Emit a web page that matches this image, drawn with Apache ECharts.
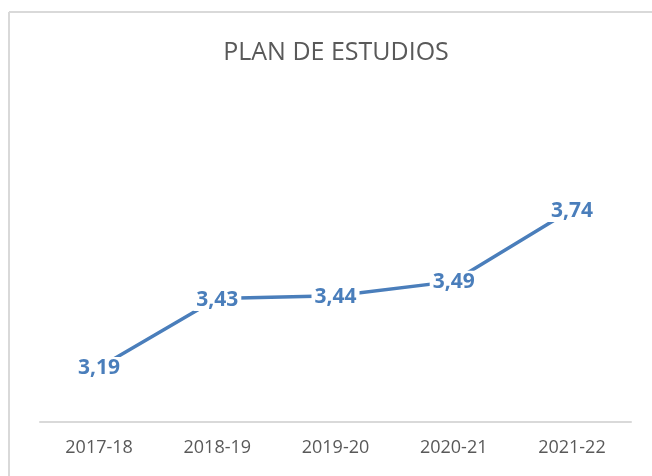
<!DOCTYPE html>
<html>
<head>
<meta charset="utf-8">
<script src="https://cdn.jsdelivr.net/npm/echarts@6/dist/echarts.min.js"></script>
<style>
  html, body { margin: 0; padding: 0; background: #fff; }
  #chart { width: 652px; height: 476px; }
</style>
</head>
<body>
<div id="chart"></div>
<script>
  // datos del grafico
  const cursos = ['2017-18', '2018-19', '2019-20', '2020-21', '2021-22'];
  const notas = [3.19, 3.43, 3.44, 3.49, 3.74];

  const azul = '#4a7ebb';
  const gris = '#595959';

  const myChart = echarts.init(document.getElementById('chart'));
  const option = {
    animation: false,
    title: {
      text: 'PLAN DE ESTUDIOS',
      left: 331,
      top: 35,
      textAlign: 'center',
      textStyle: {
        fontFamily: 'Open Sans',
        fontSize: 25,
        fontWeight: 'normal',
        color: gris
      }
    },
    graphic: [
      { type: 'line', shape: { x1: 9, y1: 12, x2: 652, y2: 12 }, style: { stroke: '#d9d9d9', lineWidth: 2 } },
      { type: 'line', shape: { x1: 9, y1: 12, x2: 9, y2: 476 }, style: { stroke: '#d9d9d9', lineWidth: 2 } }
    ],
    grid: { left: 40, right: 21, top: 135, bottom: 54 },
    xAxis: {
      type: 'category',
      data: cursos,
      boundaryGap: true,
      axisLine: { lineStyle: { color: '#d9d9d9', width: 2 } },
      axisTick: { show: false },
      axisLabel: {
        color: gris,
        fontFamily: 'Open Sans',
        fontSize: 18,
        margin: 17
      }
    },
    yAxis: {
      type: 'value',
      min: 3,
      max: 4,
      show: false,
      splitLine: { show: false }
    },
    series: [
      {
        type: 'line',
        data: notas,
        symbol: 'circle',
        symbolSize: 2,
        showSymbol: true,
        itemStyle: { color: 'rgba(0,0,0,0)', borderWidth: 0 },
        lineStyle: { color: azul, width: 3.5 },
        label: {
          show: true,
          position: 'inside',
          color: azul,
          opacity: 1,
          fontFamily: 'Open Sans',
          fontWeight: 'bold',
          fontSize: 21,
          backgroundColor: '#fff',
          padding: [1, 3],
          offset: [0, 1],
          formatter: p => p.value.toFixed(2).replace('.', ',')
        }
      }
    ]
  };
  myChart.setOption(option);
</script>
</body>
</html>
